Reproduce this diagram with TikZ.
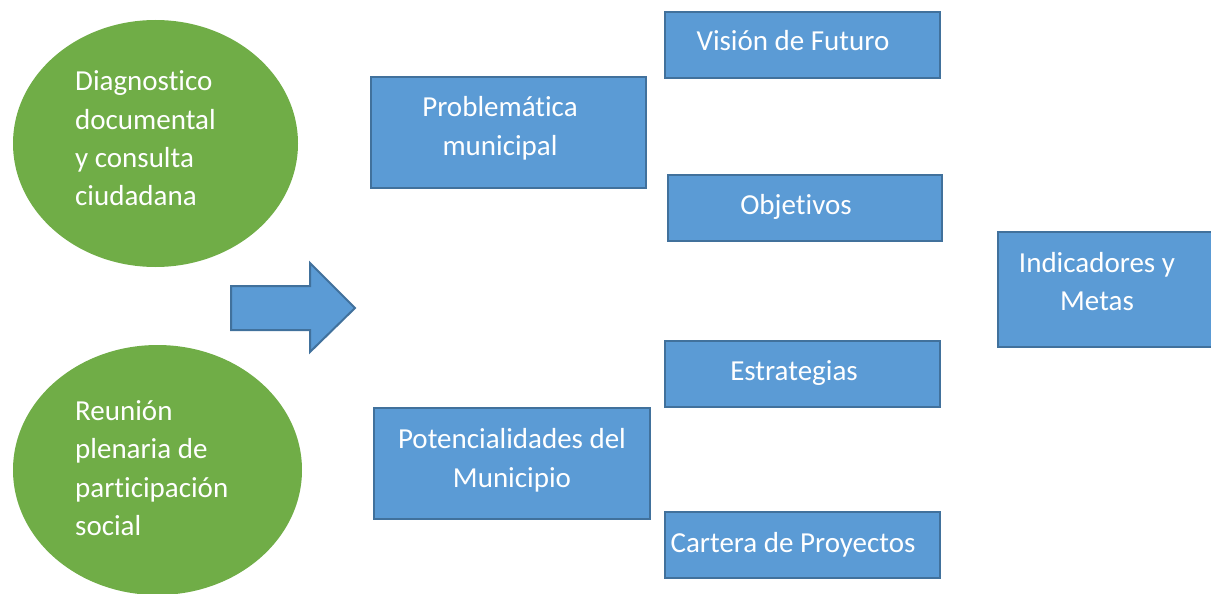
\documentclass[tikz,border=0pt]{standalone}
\usepackage{fontspec}
\setmainfont[RawFeature={-liga;-clig}]{Carlito}
\usetikzlibrary{shapes.geometric}
\definecolor{bfill}{HTML}{5B9BD5}
\definecolor{bline}{HTML}{41719C}
\definecolor{gfill}{HTML}{70AD47}
\tikzset{
  bluebox/.style={draw=bline, fill=bfill, line width=2pt},
  greenell/.style={ellipse, fill=gfill, draw=none, inner sep=0pt},
  txt/.style={text=white, font=\fontsize{29}{38}\selectfont, inner sep=0pt},
}
\begin{document}
\begin{tikzpicture}[x=1pt,y=-1pt]
\useasboundingbox (0,0) rectangle (1211,594);
% green ellipses
\node[greenell, minimum width=285pt, minimum height=247pt] (e1) at (155.5,143.5) {};
\node[greenell, minimum width=289pt, minimum height=250pt] (e2) at (157.5,470) {};
\node[txt, anchor=base west] (e1a) at (75,91) {Diagnostico};
\node[txt, anchor=base west] (e1b) at (75,129) {documental};
\node[txt, anchor=base west] (e1c) at (75,167) {y consulta};
\node[txt, anchor=base west] (e1d) at (75,205) {ciudadana};
\node[txt, anchor=base west] (e2a) at (75,420) {Reunión};
\node[txt, anchor=base west] (e2b) at (75,458) {plenaria de};
\node[txt, anchor=base west] (e2c) at (75,497) {participación};
\node[txt, anchor=base west] (e2d) at (75,535) {social};
% block arrow
\draw[bluebox] (231,286) -- (310,286) -- (310,263) -- (355,308) -- (310,352) -- (310,330) -- (231,330) -- cycle;
% boxes
\draw[bluebox] (371,77) rectangle (646,188) node[midway] (pm) {};
\draw[bluebox] (374,408) rectangle (650,519) node[midway] (pt) {};
\draw[bluebox] (665,12) rectangle (940,78) node[midway] (vf) {};
\draw[bluebox] (668,175) rectangle (942,241) node[midway] (ob) {};
\draw[bluebox] (665,341) rectangle (940,407) node[midway] (es) {};
\draw[bluebox] (665,512) rectangle (940,578) node[midway] (cp) {};
\draw[bluebox] (998,232) rectangle (1214,347) node[midway] (im) {};
% texts
\node[txt, anchor=base] (pm1) at (500,117) {Problemática};
\node[txt, anchor=base] (pm2) at (500,155) {municipal};
\node[txt, anchor=base] (pt1) at (512,448) {Potencialidades del};
\node[txt, anchor=base] (pt2) at (512,487) {Municipio};
\node[txt, anchor=base] (vft) at (793,51) {Visión de Futuro};
\node[txt, anchor=base] (obt) at (796,214) {Objetivos};
\node[txt, anchor=base] (est) at (794,380) {Estrategias};
\node[txt, anchor=base] (cpt) at (793,552) {Cartera de Proyectos};
\node[txt, anchor=base] (im1) at (1097,272) {Indicadores y};
\node[txt, anchor=base] (im2) at (1097,310) {Metas};
\end{tikzpicture}
\end{document}
